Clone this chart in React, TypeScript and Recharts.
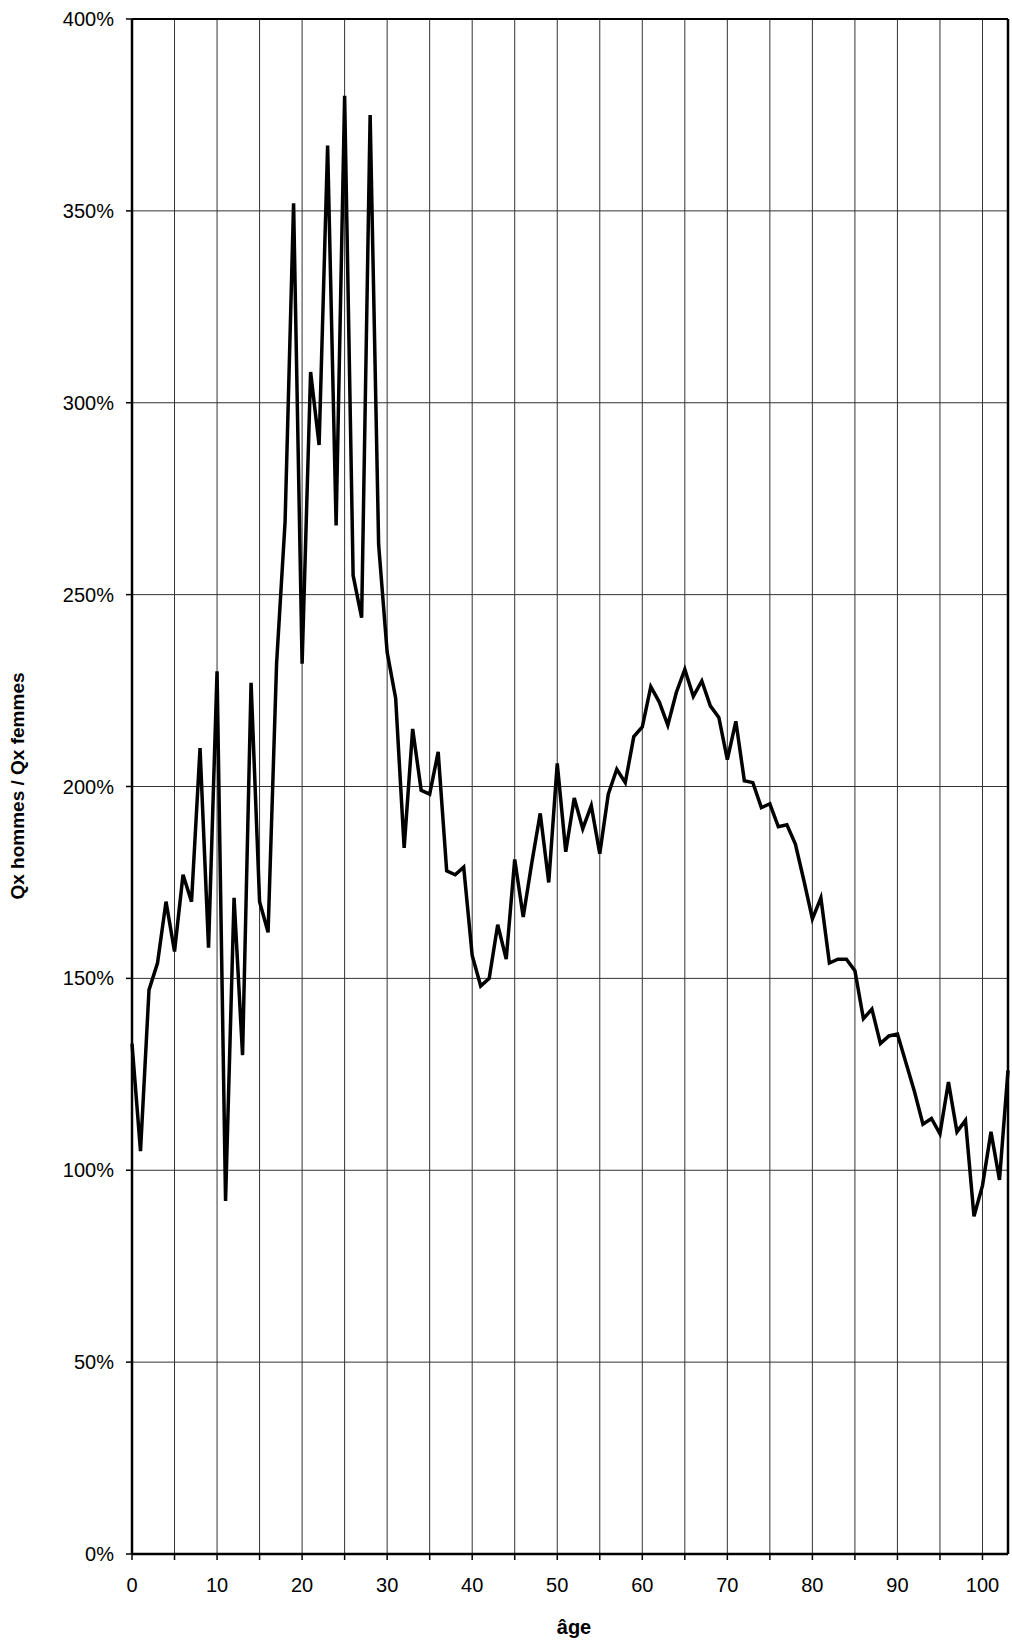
import { LineChart, Line, XAxis, YAxis, CartesianGrid, ReferenceLine } from 'recharts';

// ratio of male to female mortality rates (Qx hommes / Qx femmes), in %
const ages = [
  0, 1, 2, 3, 4, 5, 6, 7, 8, 9,
  10, 11, 12, 13, 14, 15, 16, 17, 18, 19,
  20, 21, 22, 23, 24, 25, 26, 27, 28, 29,
  30, 31, 32, 33, 34, 35, 36, 37, 38, 39,
  40, 41, 42, 43, 44, 45, 46, 47, 48, 49,
  50, 51, 52, 53, 54, 55, 56, 57, 58, 59,
  60, 61, 62, 63, 64, 65, 66, 67, 68, 69,
  70, 71, 72, 73, 74, 75, 76, 77, 78, 79,
  80, 81, 82, 83, 84, 85, 86, 87, 88, 89,
  90, 91, 92, 93, 94, 95, 96, 97, 98, 99,
  100, 101, 102, 103,
];

const ratio = [
  133, 105, 147, 154, 170, 157, 177, 170, 210, 158,
  230, 92, 171, 130, 227, 170, 162, 232, 269, 352,
  232, 308, 289, 367, 268, 380, 255, 244, 375, 263,
  235, 223, 184, 215, 199, 198, 209, 178, 177, 179,
  156, 148, 150, 164, 155, 181, 166, 180, 193, 175,
  206, 183, 197, 189, 195, 182.5, 198, 204.5, 201, 213,
  215.5, 226, 222, 216, 224.5, 230.5, 223.5, 227.5, 221, 218,
  207, 217, 201.5, 201, 194.5, 195.5, 189.5, 190, 185, 175.5,
  165.5, 171, 154, 155, 155, 152, 139.5, 142, 133, 135,
  135.5, 128, 120.5, 112, 113.5, 109.5, 123, 110, 113, 88,
  96, 110, 97.5, 126,
];

const xTicks = [0, 5, 10, 15, 20, 25, 30, 35, 40, 45, 50, 55, 60, 65, 70, 75, 80, 85, 90, 95, 100];
const yTicks = [0, 50, 100, 150, 200, 250, 300, 350, 400];

const data = ages.map((age, i) => ({ age, ratio: ratio[i] }));

const font = '"Liberation Sans", Arial, sans-serif';

export default function App() {
  return (
    <div style={{ position: 'absolute', left: 0, top: 0, width: 1012, height: 1642, background: '#fff', fontFamily: font }}>
      <LineChart width={1012} height={1642} data={data} margin={{ top: 19, right: 4, bottom: 0, left: 0 }}>
        <CartesianGrid stroke="#333" strokeWidth={1} />
        <XAxis
          dataKey="age"
          type="number"
          domain={[0, 103]}
          ticks={xTicks}
          interval={0}
          height={88}
          tickFormatter={(v) => (v % 10 === 0 ? String(v) : '')}
          tick={{ fill: '#000', fontSize: 20, fontFamily: font }}
          tickSize={6}
          tickMargin={18}
          axisLine={{ stroke: '#000', strokeWidth: 2.5 }}
          tickLine={{ stroke: '#000', strokeWidth: 1.5 }}
        />
        <YAxis
          type="number"
          domain={[0, 400]}
          ticks={yTicks}
          interval={0}
          width={132}
          tickFormatter={(v) => `${v}%`}
          tick={{ fill: '#000', fontSize: 20, fontFamily: font }}
          tickSize={6}
          tickMargin={12}
          axisLine={{ stroke: '#000', strokeWidth: 2.5 }}
          tickLine={{ stroke: '#000', strokeWidth: 1.5 }}
        />
        <ReferenceLine y={400} stroke="#000" strokeWidth={2} />
        <ReferenceLine x={103} stroke="#000" strokeWidth={2.5} />
        <Line
          type="linear"
          dataKey="ratio"
          stroke="#000"
          strokeWidth={3.5}
          dot={false}
          isAnimationActive={false}
        />
      </LineChart>
      <div
        style={{
          position: 'absolute',
          left: 574,
          top: 1627,
          transform: 'translate(-50%, -50%)',
          fontWeight: 'bold',
          fontSize: 20,
          whiteSpace: 'nowrap',
        }}
      >
        âge
      </div>
      <div
        style={{
          position: 'absolute',
          left: 18,
          top: 786,
          transform: 'translate(-50%, -50%) rotate(-90deg)',
          fontWeight: 'bold',
          fontSize: 19,
          whiteSpace: 'nowrap',
        }}
      >
        Qx hommes / Qx femmes
      </div>
    </div>
  );
}
